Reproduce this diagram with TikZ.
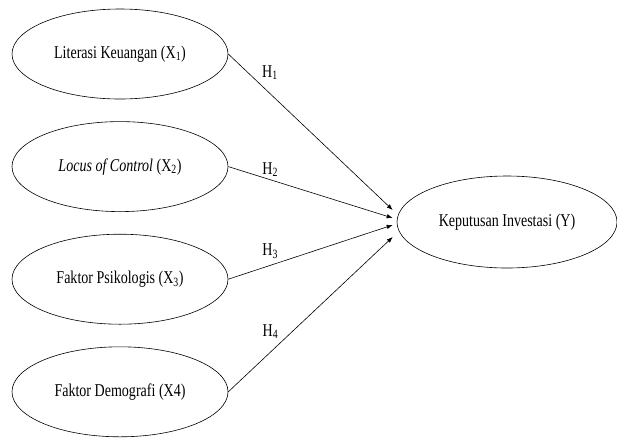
\documentclass[tikz,border=0pt]{standalone}
\usepackage{fontspec}
\setmainfont[FakeStretch=0.78]{Liberation Serif}
\usetikzlibrary{shapes.geometric,positioning,arrows.meta}

\begin{document}
\begin{tikzpicture}[var/.style={ellipse,draw,line width=0.6pt,minimum width=216pt,minimum height=90pt,font=\fontsize{18}{20}\selectfont},
  hyp/.style={-{Latex[length=6pt,width=4.5pt]},line width=0.6pt},
  lab/.style={font=\fontsize{18}{20}\selectfont},
  node distance=22pt]
\useasboundingbox (0,0) rectangle (617pt,-440pt);
\node [var] (x1) at (120pt,-54pt) {Literasi Keuangan (X\textsubscript{1})};
\node [var,below=of x1] (x2) {\textit{Locus of Control} (X\textsubscript{2})};
\node [var,below=of x2] (x3) {Faktor Psikologis (X\textsubscript{3})};
\node [var,below=of x3] (x4) {Faktor Demografi (X4)};
\node [var,minimum width=220pt,minimum height=92pt] (y) at (507pt,-222pt) {Keputusan Investasi (Y)};

\draw [hyp] (x1.east) -- ([xshift=-4pt,yshift=12pt]y.west) node [lab,pos=0.15,xshift=17pt,yshift=5pt] (h1) {H\textsubscript{1}};
\draw [hyp] (x2.east) -- ([xshift=-4pt,yshift=4pt]y.west) node [lab,pos=0.255,yshift=10pt] (h2) {H\textsubscript{2}};
\draw [hyp] (x3.east) -- ([xshift=-4pt,yshift=-3pt]y.west) node [lab,pos=0.255,yshift=14pt] (h3) {H\textsubscript{3}};
\draw [hyp] (x4.east) -- ([xshift=-4pt,yshift=-15pt]y.west) node [lab,pos=0.39,xshift=-22pt] (h4) {H\textsubscript{4}};

\end{tikzpicture}
\end{document}
